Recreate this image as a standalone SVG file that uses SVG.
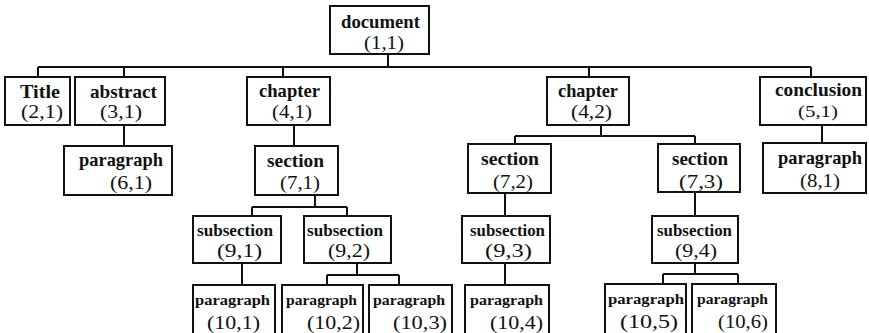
<svg xmlns="http://www.w3.org/2000/svg" width="869" height="333" viewBox="0 0 869 333">
<style>
.box{fill:#fff;stroke:#111;stroke-width:2}
.con{fill:none;stroke:#111;stroke-width:2}
.lbl{font-family:"Liberation Serif",serif;font-weight:bold;font-size:19px;fill:#111}
.sl{font-family:"Liberation Serif",serif;font-weight:bold;font-size:16px;fill:#111}
.pl{font-family:"Liberation Serif",serif;font-weight:bold;font-size:14px;fill:#111}
.num{font-family:"Liberation Serif",serif;font-size:19px;fill:#111}
.sn{font-family:"Liberation Serif",serif;font-size:16px;fill:#111}
</style>
<rect width="869" height="333" fill="#fff"/>
<g id="connectors" class="con">
<path d="M388 54V67M38 67H811M38 67V77M124 67V77M283 67V77M589 67V77M811 67V77"/>
<path d="M124 125V146M294 125V146"/>
<path d="M315 195V207M252 207H347M252 207V216M347 207V216"/>
<path d="M242 263V285M357 263V275M327 275H399M327 275V285M399 275V285"/>
<path d="M601 125V136M515 136H695M515 136V144M695 136V144"/>
<path d="M505 193V216M505 263V285M695 192V216"/>
<path d="M695 263V274M663 274H738M663 274V284M738 274V284"/>
<path d="M822 125V143"/>
</g>
<g id="n-document"><rect class="box" x="330" y="6" width="99" height="48"/><text class="lbl" x="341" y="28" textLength="79" lengthAdjust="spacingAndGlyphs">document</text><text class="num" x="364" y="49" textLength="40" lengthAdjust="spacingAndGlyphs">(1,1)</text></g>
<g id="n-title"><rect class="box" x="5" y="77" width="65" height="48"/><text class="lbl" x="20" y="98" textLength="40" lengthAdjust="spacingAndGlyphs">Title</text><text class="num" x="21" y="118" textLength="42" lengthAdjust="spacingAndGlyphs">(2,1)</text></g>
<g id="n-abstract"><rect class="box" x="75" y="77" width="90" height="48"/><text class="lbl" x="90" y="98" textLength="67" lengthAdjust="spacingAndGlyphs">abstract</text><text class="num" x="100" y="118" textLength="42" lengthAdjust="spacingAndGlyphs">(3,1)</text></g>
<g id="n-chapter41"><rect class="box" x="247" y="77" width="83" height="48"/><text class="lbl" x="259" y="97" textLength="61" lengthAdjust="spacingAndGlyphs">chapter</text><text class="num" x="272" y="118" textLength="40" lengthAdjust="spacingAndGlyphs">(4,1)</text></g>
<g id="n-chapter42"><rect class="box" x="547" y="77" width="82" height="48"/><text class="lbl" x="558" y="97" textLength="60" lengthAdjust="spacingAndGlyphs">chapter</text><text class="num" x="571" y="118" textLength="41" lengthAdjust="spacingAndGlyphs">(4,2)</text></g>
<g id="n-conclusion"><rect class="box" x="760" y="77" width="106" height="48"/><text class="lbl" x="775" y="96" textLength="87" lengthAdjust="spacingAndGlyphs">conclusion</text><text class="sn" x="798" y="117" textLength="40" lengthAdjust="spacingAndGlyphs">(5,1)</text></g>
<g id="n-para61"><rect class="box" x="64" y="146" width="108" height="49"/><text class="lbl" x="79" y="166" textLength="84" lengthAdjust="spacingAndGlyphs">paragraph</text><text class="num" x="110" y="189" textLength="42" lengthAdjust="spacingAndGlyphs">(6,1)</text></g>
<g id="n-section71"><rect class="box" x="255" y="146" width="83" height="49"/><text class="lbl" x="267" y="167" textLength="57" lengthAdjust="spacingAndGlyphs">section</text><text class="num" x="280" y="189" textLength="40" lengthAdjust="spacingAndGlyphs">(7,1)</text></g>
<g id="n-section72"><rect class="box" x="468" y="144" width="83" height="49"/><text class="lbl" x="481" y="165" textLength="58" lengthAdjust="spacingAndGlyphs">section</text><text class="num" x="493" y="188" textLength="40" lengthAdjust="spacingAndGlyphs">(7,2)</text></g>
<g id="n-section73"><rect class="box" x="658" y="144" width="82" height="48"/><text class="lbl" x="672" y="165" textLength="56" lengthAdjust="spacingAndGlyphs">section</text><text class="num" x="679" y="188" textLength="44" lengthAdjust="spacingAndGlyphs">(7,3)</text></g>
<g id="n-para81"><rect class="box" x="763" y="143" width="103" height="50"/><text class="lbl" x="778" y="164" textLength="84" lengthAdjust="spacingAndGlyphs">paragraph</text><text class="num" x="800" y="187" textLength="40" lengthAdjust="spacingAndGlyphs">(8,1)</text></g>
<g id="n-sub91"><rect class="box" x="193" y="216" width="88" height="47"/><text class="sl" x="197" y="236" textLength="76" lengthAdjust="spacingAndGlyphs">subsection</text><text class="num" x="217" y="257" textLength="45" lengthAdjust="spacingAndGlyphs">(9,1)</text></g>
<g id="n-sub92"><rect class="box" x="304" y="216" width="87" height="47"/><text class="sl" x="307" y="236" textLength="76" lengthAdjust="spacingAndGlyphs">subsection</text><text class="num" x="328" y="257" textLength="42" lengthAdjust="spacingAndGlyphs">(9,2)</text></g>
<g id="n-sub93"><rect class="box" x="462" y="216" width="88" height="47"/><text class="sl" x="470" y="236" textLength="75" lengthAdjust="spacingAndGlyphs">subsection</text><text class="num" x="485" y="257" textLength="47" lengthAdjust="spacingAndGlyphs">(9,3)</text></g>
<g id="n-sub94"><rect class="box" x="652" y="216" width="86" height="47"/><text class="sl" x="657" y="236" textLength="75" lengthAdjust="spacingAndGlyphs">subsection</text><text class="num" x="675" y="257" textLength="42" lengthAdjust="spacingAndGlyphs">(9,4)</text></g>
<g id="n-p101"><rect class="box" x="193" y="285" width="82" height="50"/><text class="pl" x="195" y="305" textLength="75" lengthAdjust="spacingAndGlyphs">paragraph</text><text class="num" x="207" y="329" textLength="53" lengthAdjust="spacingAndGlyphs">(10,1)</text></g>
<g id="n-p102"><rect class="box" x="282" y="285" width="81" height="50"/><text class="pl" x="286" y="305" textLength="71" lengthAdjust="spacingAndGlyphs">paragraph</text><text class="num" x="307" y="329" textLength="53" lengthAdjust="spacingAndGlyphs">(10,2)</text></g>
<g id="n-p103"><rect class="box" x="369" y="285" width="83" height="50"/><text class="pl" x="373" y="305" textLength="72" lengthAdjust="spacingAndGlyphs">paragraph</text><text class="num" x="393" y="329" textLength="54" lengthAdjust="spacingAndGlyphs">(10,3)</text></g>
<g id="n-p104"><rect class="box" x="465" y="285" width="84" height="50"/><text class="pl" x="470" y="305" textLength="73" lengthAdjust="spacingAndGlyphs">paragraph</text><text class="num" x="490" y="329" textLength="53" lengthAdjust="spacingAndGlyphs">(10,4)</text></g>
<g id="n-p105"><rect class="box" x="605" y="284" width="81" height="51"/><text class="pl" x="608" y="304" textLength="76" lengthAdjust="spacingAndGlyphs">paragraph</text><text class="num" x="620" y="328" textLength="58" lengthAdjust="spacingAndGlyphs">(10,5)</text></g>
<g id="n-p106"><rect class="box" x="692" y="284" width="84" height="51"/><text class="pl" x="697" y="304" textLength="71" lengthAdjust="spacingAndGlyphs">paragraph</text><text class="num" x="718" y="328" textLength="50" lengthAdjust="spacingAndGlyphs">(10,6)</text></g>
</svg>
